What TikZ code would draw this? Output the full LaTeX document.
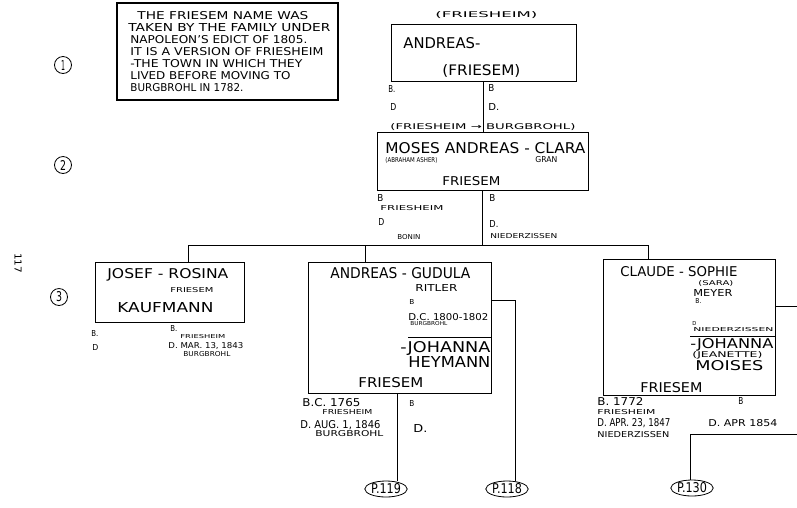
\documentclass[tikz,border=0pt]{standalone}
\usepackage{fontspec}
\setmainfont{DejaVu Sans}
\usetikzlibrary{shapes.geometric}
\newcommand\tx[3]{\resizebox{#1pt}{#2pt}{#3}}
\begin{document}
\begin{tikzpicture}[x=1pt,y=-1pt,line width=0.8pt,
  box/.style={draw,rectangle,inner sep=0},
  t/.style={inner sep=0,anchor=west},
  oval/.style={draw,ellipse,inner sep=0,minimum width=40pt,minimum height=16pt},
  num/.style={draw,circle,inner sep=0,minimum size=17pt}]
\useasboundingbox (0,0) rectangle (797,507);

% page number and generation numbers
\node[inner sep=0,rotate=-90] (pg) at (18,263) {\tx{20}{7}{117}};
\node[num] (n1) at (63,65) {\tx{4}{10}{1}};
\node[num] (n2) at (63,165) {\tx{6}{10}{2}};
\node[num] (n3) at (59,297) {\tx{6}{10}{3}};

% note box
\node[box,line width=1.1pt,minimum width=221pt,minimum height=97pt] (note) at (227.5,51.5) {};
\node[t] (l1) at (137,16) {\tx{171}{8}{THE FRIESEM NAME WAS}};
\node[t] (l2) at (128,28) {\tx{202}{8}{TAKEN BY THE FAMILY UNDER}};
\node[t] (l3) at (130,40) {\tx{177}{8}{NAPOLEON'S EDICT OF 1805.}};
\node[t] (l4) at (130,52) {\tx{193}{8}{IT IS A VERSION OF FRIESHEIM}};
\node[t] (l5) at (130,64) {\tx{172}{8}{-THE TOWN IN WHICH THEY}};
\node[t] (l6) at (130,76) {\tx{160}{8}{LIVED BEFORE MOVING TO}};
\node[t] (l7) at (130,88) {\tx{113}{8}{BURGBROHL IN 1782.}};

% generation 1
\node[box,minimum width=185pt,minimum height=57pt] (b1) at (483.5,52.5) {};
\node[t] (a1) at (435,15) {\tx{102}{6}{(FRIESHEIM)}};
\node[t] (a2) at (403,43) {\tx{77}{11}{ANDREAS-}};
\node[t] (a3) at (442,71) {\tx{78}{11}{(FRIESEM)}};
\node[t] (a4) at (388,89) {\tx{7}{7}{B.}};
\node[t] (a5) at (390,107) {\tx{6}{7}{D}};
\node[t] (a6) at (488,88) {\tx{6}{7}{B}};
\node[t] (a7) at (488,107) {\tx{11}{7}{D.}};

% generation 2
\node[box,minimum width=211pt,minimum height=58pt] (b2) at (482.5,161) {};
\node[t] (m1) at (390,127) {\tx{185}{6}{(FRIESHEIM → BURGBROHL)}};
\node[t] (m2) at (385,148) {\tx{200}{11}{MOSES ANDREAS - CLARA}};
\node[t] (m3) at (385,160) {\tx{52}{5}{(ABRAHAM ASHER)}};
\node[t] (m4) at (535,160) {\tx{22}{6}{GRAN}};
\node[t] (m5) at (442,181) {\tx{58}{9}{FRIESEM}};
\node[t] (m6) at (377,198) {\tx{6}{7}{B}};
\node[t] (m7) at (380,208) {\tx{63}{5}{FRIESHEIM}};
\node[t] (m8) at (378,222) {\tx{6}{7}{D}};
\node[t] (m9) at (397,237) {\tx{23}{5}{BONIN}};
\node[t] (m10) at (489,198) {\tx{6}{7}{B}};
\node[t] (m11) at (489,224) {\tx{9}{7}{D.}};
\node[t] (m12) at (490,236) {\tx{67}{5}{NIEDERZISSEN}};

\draw (b1.south) -- (b1.south |- b2.north);

% bus
\coordinate (busL) at (188,245);
\coordinate (busM) at (365,245);
\coordinate (busR) at (648,245);
\draw (b2.south) -- (b2.south |- busL);
\draw (busL) -- (busR);

% generation 3: Josef
\node[box,minimum width=149pt,minimum height=60pt] (b3) at (169.5,292) {};
\node[t] (j1) at (107,275) {\tx{121}{10}{JOSEF - ROSINA}};
\node[t] (j2) at (170,290) {\tx{43}{5}{FRIESEM}};
\node[t] (j3) at (117,308) {\tx{96}{10}{KAUFMANN}};
\node[t] (j4) at (91,333) {\tx{7}{6}{B.}};
\node[t] (j5) at (92,347) {\tx{6}{6}{D}};
\node[t] (j6) at (170,328) {\tx{7}{6}{B.}};
\node[t] (j7) at (180,337) {\tx{45}{4}{FRIESHEIM}};
\node[t] (j8) at (168,346) {\tx{75}{6}{D. MAR. 13, 1843}};
\node[t] (j9) at (183,354) {\tx{47}{5}{BURGBROHL}};
\draw (busL) -- (busL |- b3.north);

% generation 3: Andreas
\node[box,minimum width=183pt,minimum height=131pt] (b4) at (399.5,327.5) {};
\node[t] (g1) at (330,273) {\tx{140}{11}{ANDREAS - GUDULA}};
\node[t] (g2) at (415,288) {\tx{42}{7}{RITLER}};
\node[t] (g3) at (409,302) {\tx{5}{5}{B}};
\node[t] (g4) at (408,317) {\tx{80}{7}{D.C. 1800-1802}};
\node[t] (g5) at (410,324) {\tx{37}{4}{BURGBROHL}};
\draw (408,337) -- (491,337);
\node[t] (g6) at (400,348) {\tx{90}{11}{-JOHANNA}};
\node[t] (g7) at (408,362) {\tx{82}{11}{HEYMANN}};
\node[t] (g8) at (358,383) {\tx{65}{10}{FRIESEM}};
\node[t] (g9) at (302,403) {\tx{58}{8}{B.C. 1765}};
\node[t] (g10) at (322,412) {\tx{50}{5}{FRIESHEIM}};
\node[t] (g11) at (300,425) {\tx{80}{8}{D. AUG. 1, 1846}};
\node[t] (g12) at (315,434) {\tx{68}{6}{BURGBROHL}};
\node[t] (g13) at (409,403) {\tx{5}{6}{B}};
\node[t] (g14) at (413,428) {\tx{14}{8}{D.}};
\draw (busM) -- (busM |- b4.north);

% generation 3: Claude
\node[box,minimum width=172pt,minimum height=136pt] (b5) at (689,327) {};
\node[t] (c1) at (620,272) {\tx{117}{10}{CLAUDE - SOPHIE}};
\node[t] (c2) at (698,283) {\tx{35}{5}{(SARA)}};
\node[t] (c3) at (693,293) {\tx{39}{7}{MEYER}};
\node[t] (c4) at (695,301) {\tx{6}{5}{B.}};
\node[t] (c5) at (692,323) {\tx{4}{4}{D}};
\node[t] (c6) at (693,330) {\tx{80}{4}{NIEDERZISSEN}};
\draw (690,336) -- (775,336);
\node[t] (c7) at (690,345) {\tx{83}{10}{-JOHANNA}};
\node[t] (c8) at (692,355) {\tx{70}{6}{(JEANETTE)}};
\node[t] (c9) at (695,366) {\tx{68}{10}{MOISES}};
\node[t] (c10) at (640,388) {\tx{62}{10}{FRIESEM}};
\node[t] (c11) at (597,401) {\tx{46}{8}{B. 1772}};
\node[t] (c12) at (738,401) {\tx{5}{7}{B}};
\node[t] (c13) at (597,412) {\tx{58}{5}{FRIESHEIM}};
\node[t] (c14) at (597,423) {\tx{73}{8}{D. APR. 23, 1847}};
\node[t] (c15) at (708,423) {\tx{69}{7}{D. APR 1854}};
\node[t] (c16) at (597,435) {\tx{72}{6}{NIEDERZISSEN}};
\draw (busR) -- (busR |- b5.north);

% page references
\node[oval] (p119) at (386,489) {\tx{30}{10}{P.119}};
\node[oval] (p118) at (507,489) {\tx{30}{10}{P.118}};
\node[oval] (p130) at (692,488) {\tx{30}{10}{P.130}};

\coordinate (d4) at (397,393);
\draw (d4) -- (d4 |- p119.north);
\coordinate (e4) at (491,300);
\coordinate (k4) at (515,300);
\draw (e4) -- (k4) -- (k4 |- p118.north);
\coordinate (e5) at (775,306);
\coordinate (o5) at (797,306);
\draw (e5) -- (o5);
\coordinate (k5) at (690,434);
\coordinate (o6) at (797,434);
\draw (o6) -- (k5) -- (k5 |- p130.north);
\end{tikzpicture}
\end{document}
